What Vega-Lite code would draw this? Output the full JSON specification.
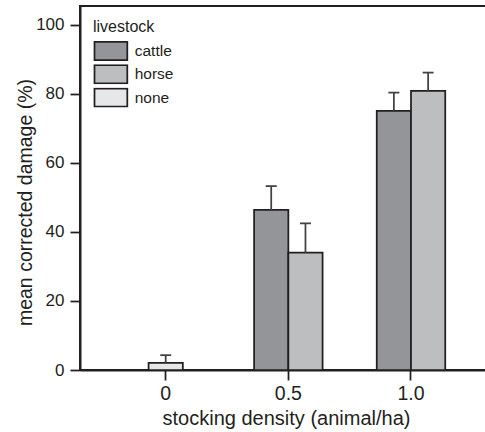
{
  "$schema": "https://vega.github.io/schema/vega-lite/v6.json",
  "width": 407,
  "height": 364,
  "autosize": {"type": "none"},
  "padding": {"left": 80, "top": 6, "right": -2, "bottom": 62},
  "config": {
    "font": "Liberation Sans",
    "view": {"stroke": "#231f20", "strokeWidth": 2, "fill": "#ffffff"},
    "axis": {
      "domainColor": "#231f20",
      "domainWidth": 2,
      "tickColor": "#231f20",
      "tickWidth": 1.75,
      "tickSize": 10,
      "labelColor": "#231f20",
      "labelFont": "Liberation Sans",
      "titleColor": "#231f20",
      "titleFont": "Liberation Sans",
      "titleFontWeight": "normal",
      "grid": false
    },
    "legend": {
      "labelFont": "Liberation Sans",
      "titleFont": "Liberation Sans"
    }
  },
  "data": {
    "values": [
      {"density": "0", "livestock": "none", "damage": 2.1, "upper": 4.3},
      {"density": "0.5", "livestock": "cattle", "damage": 46.4, "upper": 53.3},
      {"density": "0.5", "livestock": "horse", "damage": 34.0, "upper": 42.5},
      {"density": "1.0", "livestock": "cattle", "damage": 75.1, "upper": 80.4},
      {"density": "1.0", "livestock": "horse", "damage": 80.9, "upper": 86.2}
    ]
  },
  "encoding": {
    "x": {
      "field": "density",
      "type": "ordinal",
      "sort": ["0", "0.5", "1.0"],
      "scale": {"paddingInner": 0.4415, "paddingOuter": 0.38, "align": 0.552, "round": false},
      "axis": {
        "orient": "bottom",
        "labelAngle": 0,
        "labelFontSize": 19.5,
        "labelPadding": 4,
        "title": "stocking density (animal/ha)",
        "titleFontSize": 20,
        "titleBaseline": "alphabetic",
        "titleX": 206,
        "titleY": 54
      }
    },
    "y": {
      "field": "damage",
      "type": "quantitative",
      "scale": {"domain": [0, 105.5], "nice": false, "zero": true},
      "axis": {
        "domain": true,
        "values": [0, 20, 40, 60, 80, 100],
        "labelFontSize": 17,
        "labelPadding": 6,
        "title": "mean corrected damage (%)",
        "titleFontSize": 19.5,
        "titleAngle": -90,
        "titleBaseline": "alphabetic",
        "titleX": -49,
        "titleY": 196,
        "titleAlign": "center"
      }
    }
  },
  "layer": [
    {
      "transform": [{"filter": "datum.livestock !== 'none'"}],
      "mark": {"type": "bar", "stroke": "#231f20", "strokeWidth": 1.75},
      "encoding": {
        "xOffset": {
          "field": "livestock",
          "type": "nominal",
          "sort": ["cattle", "horse"],
          "scale": {"paddingInner": 0, "paddingOuter": 0}
        },
        "fill": {
          "field": "livestock",
          "type": "nominal",
          "scale": {
            "domain": ["cattle", "horse", "none"],
            "range": ["#939598", "#bcbec0", "#e6e7e8"]
          },
          "legend": {
            "orient": "none",
            "legendX": 13,
            "legendY": 13,
            "title": "livestock",
            "titleFontSize": 16,
            "titleFontWeight": "normal",
            "titleColor": "#231f20",
            "titlePadding": 6,
            "labelFontSize": 15.5,
            "labelColor": "#231f20",
            "labelOffset": 14.8,
            "symbolType": "M-2.05,-1.1375H2.05V1.1375H-2.05Z",
            "symbolSize": 256,
            "symbolOffset": 8.9,
            "symbolStrokeColor": "#231f20",
            "symbolStrokeWidth": 1.75,
            "symbolOpacity": 1,
            "clipHeight": 20,
            "rowPadding": 3.3
          }
        }
      }
    },
    {
      "transform": [{"filter": "datum.livestock === 'none'"}],
      "mark": {"type": "bar", "stroke": "#231f20", "strokeWidth": 1.75, "width": {"band": 0.5}},
      "encoding": {
        "fill": {"field": "livestock", "type": "nominal"}
      }
    },
    {
      "transform": [{"filter": "datum.livestock !== 'none'"}],
      "mark": {"type": "rule", "color": "#414042", "strokeWidth": 1.75},
      "encoding": {
        "xOffset": {"field": "livestock", "type": "nominal", "sort": ["cattle", "horse"]},
        "y2": {"field": "upper"}
      }
    },
    {
      "transform": [{"filter": "datum.livestock === 'none'"}],
      "mark": {"type": "rule", "color": "#414042", "strokeWidth": 1.75},
      "encoding": {
        "y2": {"field": "upper"}
      }
    },
    {
      "transform": [{"filter": "datum.livestock !== 'none'"}],
      "mark": {"type": "tick", "orient": "horizontal", "color": "#414042", "size": 11, "thickness": 1.75, "opacity": 1},
      "encoding": {
        "xOffset": {"field": "livestock", "type": "nominal", "sort": ["cattle", "horse"]},
        "y": {"field": "upper", "type": "quantitative"}
      }
    },
    {
      "transform": [{"filter": "datum.livestock === 'none'"}],
      "mark": {"type": "tick", "orient": "horizontal", "color": "#414042", "size": 11, "thickness": 1.75, "opacity": 1},
      "encoding": {
        "y": {"field": "upper", "type": "quantitative"}
      }
    }
  ]
}
